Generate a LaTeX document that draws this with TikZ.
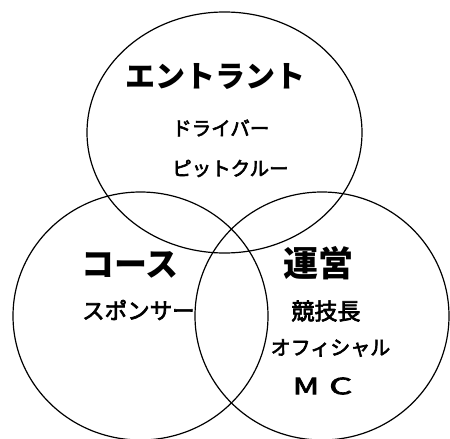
\documentclass[tikz,border=0pt]{standalone}
\usepackage{fontspec}
\usepackage{tikz}
\newfontfamily\jp{Noto Sans CJK JP}
\newfontfamily\jpm[FakeBold=3]{Noto Sans CJK JP}
\tikzstyle{group}=[draw=black,line width=1.2]
\tikzstyle{title}=[inner sep=0pt,font=\jp\bfseries]
\tikzstyle{member}=[inner sep=0pt,font=\jpm]
\tikzset{every picture/.style={
    x=1pt,y=-1pt
  }
}

\begin{document}
\begin{tikzpicture}
      \useasboundingbox (0,0) rectangle (450,439);
      \draw[group] (224.5,132.5) ellipse (137.5 and 120.5);
      \draw[group] (140.5,316) ellipse (127.5 and 124);
      \draw[group] (322,316) ellipse (127 and 124);
      \node[title, font=\jp\bfseries\fontsize{30}{30}\selectfont] at (215.5,77) (entrant) {エントラント};
      \node[member, anchor=west, font=\jpm\fontsize{19.5}{20}\selectfont] at (172,128) (driver) {ドライバー};
      \node[member, anchor=west, font=\jpm\fontsize{19.5}{20}\selectfont] at (172,168.5) (pitcrew) {ピットクルー};
      \node[title, anchor=west, font=\jp\bfseries\fontsize{33}{33}\selectfont] at (81,265) (course) {コース};
      \node[member, anchor=west, font=\jpm\fontsize{22.5}{23}\selectfont] at (82,310) (sponsor) {スポンサー};
      \node[title, font=\jp\bfseries\fontsize{35}{35}\selectfont] at (318.5,263) (unei) {運営};
      \node[member, font=\jpm\fontsize{23}{23}\selectfont] at (326,311) (chief) {競技長};
      \node[member, font=\jpm\fontsize{20}{20}\selectfont] at (330.5,348) (official) {オフィシャル};
      \node[member, font=\jpm\fontsize{22.5}{22.5}\selectfont] at (322.5,386) (mc) {\scalebox{1.45}[1]{M}\hspace{10pt}\scalebox{1.6}[1]{C}};
    \end{tikzpicture}
\end{document}
